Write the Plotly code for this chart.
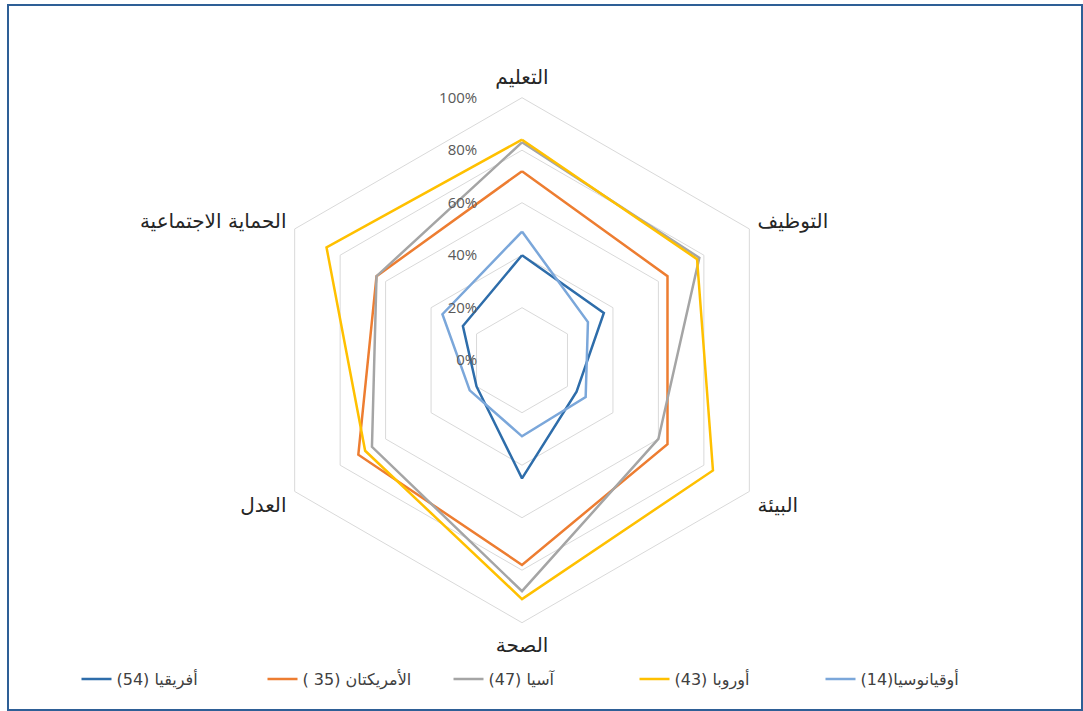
import plotly.graph_objects as go

categories = ["التعليم", "التوظيف", "البيئة", "الصحة", "العدل", "الحماية الاجتماعية"]

africa = [40, 36, 24, 45, 20, 26]
americas = [72, 64, 64, 78, 72, 64]
asia = [83, 78, 60, 88, 66, 64]
europe = [84, 77, 84, 91, 69, 86]
oceania = [49, 29, 28, 29, 23, 35]

series_names = ["أفريقيا (54)", "الأمريكتان (35 )", "آسيا (47)", "أوروبا (43)", "أوقيانوسيا(14)"]
series_values = [africa, americas, asia, europe, oceania]
series_colors = ["#2E6DAA", "#ED7D31", "#A5A5A5", "#FFC000", "#7BA7DA"]

tick_vals = [0, 20, 40, 60, 80, 100]
tick_text = ["0%", "20%", "40%", "60%", "80%", "100%"]

RLE, PDF = "\u202B", "\u202C"

fig = go.Figure()
for name, vals, col in zip(series_names, series_values, series_colors):
    fig.add_trace(go.Scatterpolar(
        r=vals + vals[:1],
        theta=categories + categories[:1],
        mode="lines",
        name=RLE + name + PDF,
        line=dict(color=col, width=2.5),
    ))

fig.update_layout(
    width=1083, height=711,
    paper_bgcolor="white", plot_bgcolor="white",
    margin=dict(l=0, r=0, t=0, b=0),
    font=dict(family="DejaVu Sans, sans-serif", size=14, color="#262626"),
    polar=dict(
        domain=dict(x=[0.2396, 0.7244], y=[0.1242, 0.8626]),
        bgcolor="white",
        gridshape="linear",
        radialaxis=dict(
            range=[0, 100], tickvals=tick_vals, ticktext=tick_text,
            angle=90, side="counterclockwise", tickangle=90,
            showline=False, gridcolor="#D9D9D9", gridwidth=1,
            ticks="outside", ticklen=39, tickcolor="rgba(0,0,0,0)",
            tickfont=dict(family="Open Sans, sans-serif", size=15, color="#595959"),
        ),
        angularaxis=dict(
            rotation=90, direction="clockwise",
            showgrid=False, showline=True, linecolor="#D9D9D9", linewidth=1,
            ticks="outside", ticklen=5, tickcolor="rgba(0,0,0,0)",
            tickfont=dict(size=20, color="#262626"),
        ),
    ),
    legend=dict(
        orientation="h", x=0.5, xanchor="center", y=0.045, yanchor="middle",
        entrywidth=141, entrywidthmode="pixels",
        font=dict(size=16, color="#404040"),
    ),
    showlegend=True,
    shapes=[dict(type="rect", xref="paper", yref="paper",
                 x0=8 / 1083, x1=1082 / 1083, y0=1 / 711, y1=1 - 5 / 711,
                 line=dict(color="#2E5F96", width=2))],
)

fig.write_html(
    "out.html",
    config={"displayModeBar": False},
    post_script="document.body.style.margin='0';document.body.style.overflow='hidden';",
)
